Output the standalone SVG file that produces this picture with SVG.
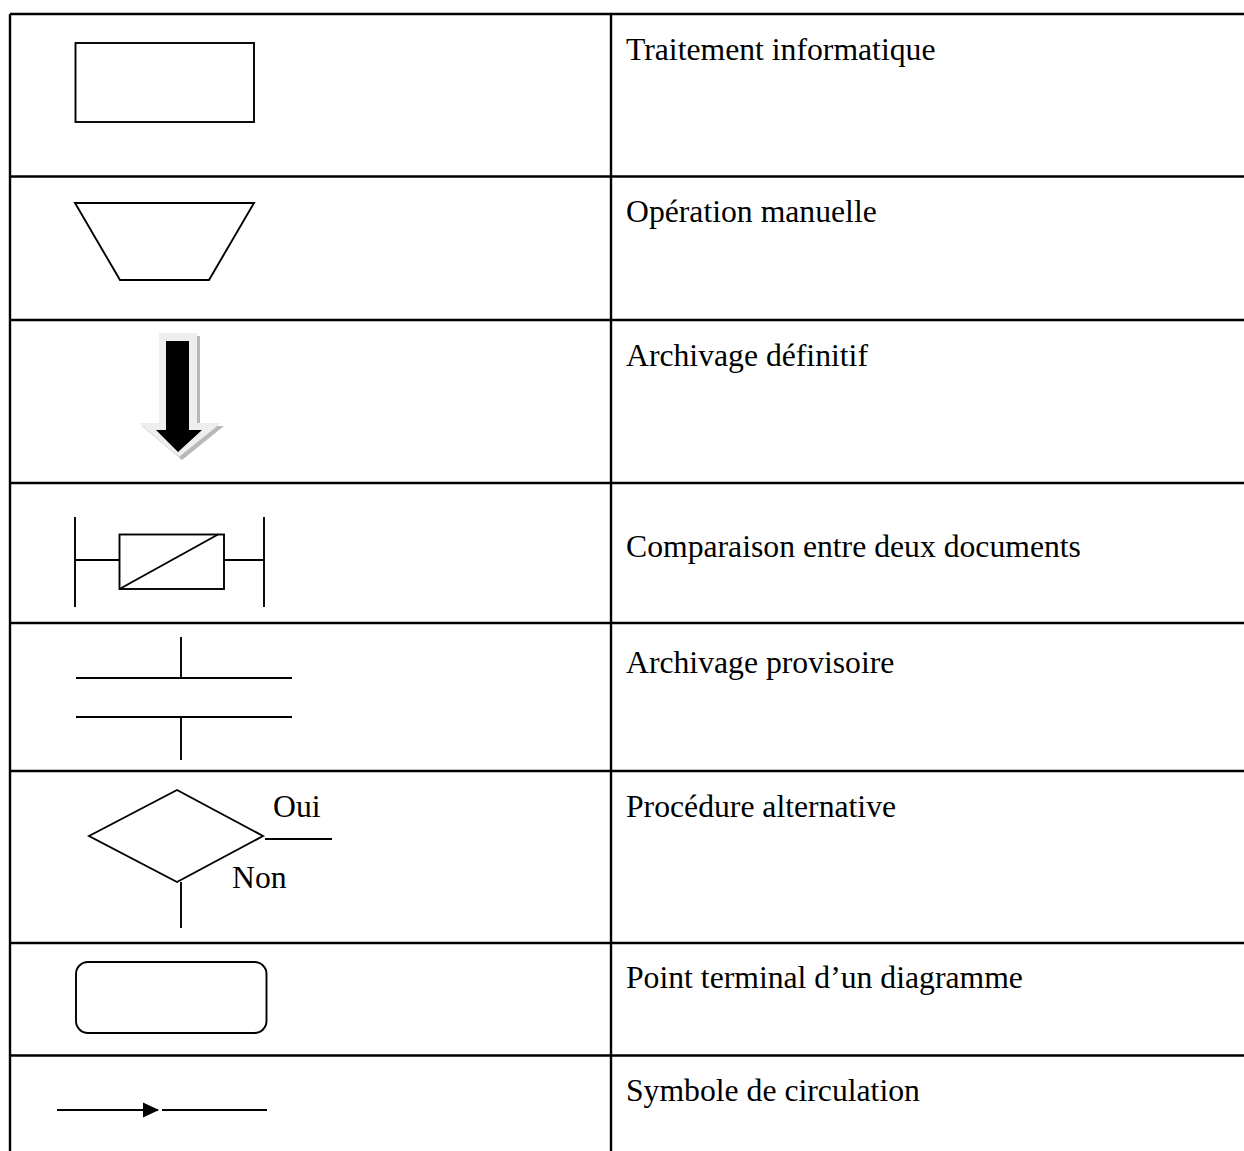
<svg xmlns="http://www.w3.org/2000/svg" width="1244" height="1151" viewBox="0 0 1244 1151">
  <style>
    .grid { stroke: #000; stroke-width: 2.4; fill: none; }
    .sym { stroke: #000; stroke-width: 1.9; fill: none; }
    .lbl { font-family: "Liberation Serif", "Times New Roman", serif; font-size: 31.7px; fill: #000; }
  </style>
  <defs>
    <marker id="flowHead" viewBox="0 0 16 16" refX="15" refY="8" markerWidth="16" markerHeight="16" markerUnits="userSpaceOnUse" orient="auto">
      <path d="M0,0.5 L16,8 L0,15.5 Z" fill="#000"/>
    </marker>
  </defs>
  <rect width="1244" height="1151" fill="#fff"/>

  <!-- table grid -->
  <g id="table">
    <line class="grid" x1="10" y1="14" x2="1244" y2="14"/>
    <line class="grid" x1="10" y1="14" x2="10" y2="1151"/>
    <line class="grid" x1="611" y1="14" x2="611" y2="1151"/>
    <line class="grid" x1="10" y1="176.5" x2="1244" y2="176.5"/>
    <line class="grid" x1="10" y1="320" x2="1244" y2="320"/>
    <line class="grid" x1="10" y1="483" x2="1244" y2="483"/>
    <line class="grid" x1="10" y1="623" x2="1244" y2="623"/>
    <line class="grid" x1="10" y1="771" x2="1244" y2="771"/>
    <line class="grid" x1="10" y1="943" x2="1244" y2="943"/>
    <line class="grid" x1="10" y1="1055.5" x2="1244" y2="1055.5"/>
  </g>

  <!-- row 1: processing -->
  <g id="traitement">
    <rect class="sym" x="75.5" y="43" width="178.5" height="79"/>
    <text class="lbl" x="626" y="60">Traitement informatique</text>
  </g>

  <!-- row 2: manual operation -->
  <g id="operation-manuelle">
    <polygon class="sym" points="75,203 254,203 209,280 120,280"/>
    <text class="lbl" x="626" y="222">Opération manuelle</text>
  </g>

  <!-- row 3: permanent archive (shaded block arrow) -->
  <g id="archivage-definitif">
    <polygon points="162,336 200,336 200,426 224,426 182,460 142,426 162,426" fill="#b8b8b8"/>
    <polygon points="159,333 197,333 197,423 221,423 179,457 139,423 159,423" fill="#eeeeee"/>
    <polygon points="166,341 189,341 189,430 202,430 178,452 156,430 166,430" fill="#000"/>
    <text class="lbl" x="626" y="366">Archivage définitif</text>
  </g>

  <!-- row 4: comparison of two documents -->
  <g id="comparaison">
    <line class="sym" x1="75" y1="517" x2="75" y2="607"/>
    <line class="sym" x1="264" y1="517" x2="264" y2="607"/>
    <line class="sym" x1="75" y1="560" x2="119.5" y2="560"/>
    <line class="sym" x1="224" y1="560" x2="264" y2="560"/>
    <rect class="sym" x="119.5" y="534.5" width="104.5" height="54.5"/>
    <line class="sym" x1="119.5" y1="589" x2="218" y2="534.5"/>
    <text class="lbl" x="626" y="557">Comparaison entre deux documents</text>
  </g>

  <!-- row 5: temporary archive -->
  <g id="archivage-provisoire">
    <line class="sym" x1="181" y1="637" x2="181" y2="678"/>
    <line class="sym" x1="76" y1="678" x2="292" y2="678"/>
    <line class="sym" x1="76" y1="717" x2="292" y2="717"/>
    <line class="sym" x1="181" y1="717" x2="181" y2="760"/>
    <text class="lbl" x="626" y="673">Archivage provisoire</text>
  </g>

  <!-- row 6: decision -->
  <g id="procedure-alternative">
    <polygon class="sym" points="89,836 177,790 263,836 177,882"/>
    <line class="sym" x1="265" y1="839" x2="332" y2="839"/>
    <line class="sym" x1="181" y1="882" x2="181" y2="928"/>
    <text class="lbl" x="273" y="817">Oui</text>
    <text class="lbl" x="232" y="888">Non</text>
    <text class="lbl" x="626" y="817">Procédure alternative</text>
  </g>

  <!-- row 7: terminal -->
  <g id="point-terminal">
    <rect class="sym" x="76" y="962" width="190.5" height="71" rx="12" ry="12"/>
    <text class="lbl" x="626" y="988">Point terminal d’un diagramme</text>
  </g>

  <!-- row 8: flow line -->
  <g id="connectors">
    <line class="sym" x1="57" y1="1110" x2="158" y2="1110" marker-end="url(#flowHead)"/>
    <line class="sym" x1="162" y1="1110" x2="267" y2="1110"/>
  </g>
  <g id="circulation">
    <text class="lbl" x="626" y="1101">Symbole de circulation</text>
  </g>
</svg>
